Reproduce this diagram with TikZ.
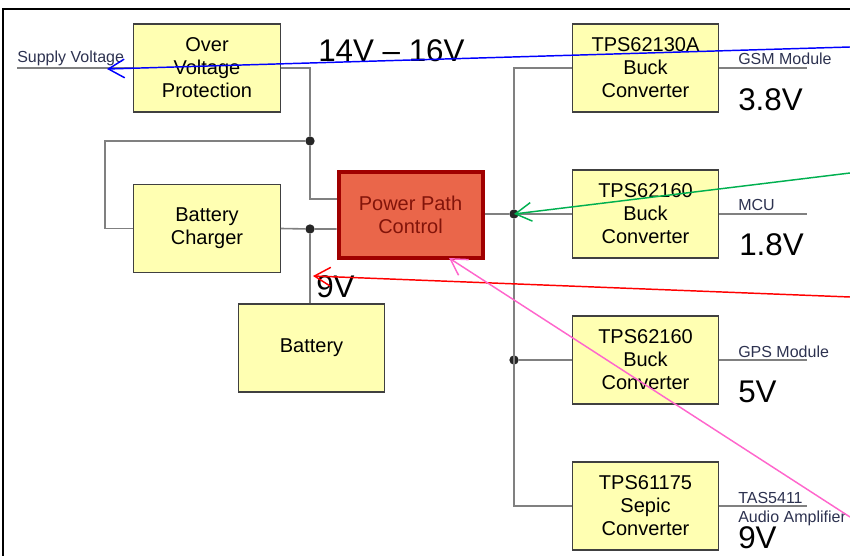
\documentclass[tikz,border=0pt]{standalone}
\usepackage{fontspec}
\setmainfont{Liberation Sans}
\usetikzlibrary{arrows.meta,calc}
\definecolor{boxyellow}{RGB}{255,255,178}
\definecolor{wiregray}{RGB}{128,128,128}
\definecolor{pathred}{RGB}{234,102,74}
\definecolor{pathborder}{RGB}{160,0,0}
\definecolor{pathtext}{RGB}{130,20,10}
\definecolor{labelblue}{RGB}{45,50,80}
\definecolor{pinkarrow}{RGB}{255,102,204}
\definecolor{greenarrow}{RGB}{0,176,80}
\tikzset{
  block/.style={draw=black!75, fill=boxyellow, line width=0.9pt, minimum width=110pt, minimum height=66pt, align=center, inner sep=1pt, font=\fontsize{15}{17.25}\selectfont},
  wire/.style={draw=wiregray, line width=1.2pt},
  junction/.style={circle, fill=black!85, inner sep=0pt, minimum size=7pt},
  outlabel/.style={anchor=base west, inner sep=0pt, text=labelblue, font=\fontsize{12}{14}\selectfont},
  volt/.style={anchor=base west, inner sep=0pt, font=\fontsize{23.5}{28}\selectfont},
  pointer/.style={draw=#1, line width=1.1pt, -{Straight Barb[length=12pt,width=14pt]}},
}

\begin{document}
\begin{tikzpicture}[x=0.75pt, y=-0.75pt]
\useasboundingbox (0,0) rectangle (850,556);

% Page frame
\draw[line width=1.6pt] (3,556) -- (3,9) -- (850,9);

% Input side
\node[block] (ovp) at (207,68) {Over\\Voltage\\Protection};
\node[block] (chg) at (207,228.5) {Battery\\Charger};
\node[block] (bat) at (311.5,348) {Battery};
\node[block, fill=pathred, draw=pathborder, line width=3pt, text=pathtext, minimum width=108pt, minimum height=64pt] (ppc) at (410.5,215) {Power Path\\Control};

% Junctions
\node[junction] (j1) at (310,141) {};
\node[junction] (j2) at (310,229) {};
\node[junction] (j3) at (514,214) {};
\node[junction] (j4) at (514,360) {};

\coordinate (supply) at (17,68);
\draw[wire] (supply) -- (ovp.west);
\draw[wire] (ovp.east) -| (j1) |- ($(ppc.west)+(0,-16)$);
\draw[wire] (j1) -- ++(-205,0) |- (chg.west);
\draw[wire] (chg.east) -- (j2) -- (ppc.west |- j2);
\draw[wire] (j2) -- (j2 |- bat.north);
\draw[wire] (ppc.east |- j3) -- (j3);

% Output side
\node[block] (buckA) at (645.5,68) {TPS62130A\\Buck\\Converter};
\node[block] (buckB) at (645.5,214) {TPS62160\\Buck\\Converter};
\node[block] (buckC) at (645.5,360) {TPS62160\\Buck\\Converter};
\node[block] (sepic) at (645.5,506) {TPS61175\\Sepic\\Converter};

\draw[wire] (buckA.west) -| (j3) |- (sepic.west);
\draw[wire] (j3) -- (buckB.west);
\draw[wire] (j4) -- (buckC.west);

\foreach \blk/\name in {buckA/gsm, buckB/mcu, buckC/gps, sepic/amp}
  \draw[wire] (\blk.east) -- ++(88,0) coordinate (\name);

% Labels
\node[outlabel] (supplylbl) at (17,63) {Supply Voltage};
\node[outlabel] (gsmlbl) at (738,65) {GSM Module};
\node[outlabel] (mculbl) at (738,211) {MCU};
\node[outlabel] (gpslbl) at (738,357) {GPS Module};
\node[outlabel] (amplbl) at (738,503) {TAS5411};
\node[outlabel] (amplbl2) at (738,522) {Audio Amplifier};

\node[volt] (vin) at (318,62) {14V – 16V};
\node[volt] (v38) at (738,111) {3.8V};
\node[volt] (v18) at (739,256) {1.8V};
\node[volt] (v9a) at (316,297) {9V};
\node[volt] (v5) at (738,402) {5V};
\node[volt] (v9b) at (738,548) {9V};

% Pointers
\coordinate (blueend) at (850,47);
\coordinate (bluetip) at (107,69);
\coordinate (greenend) at (850,173);
\coordinate (redend) at (850,297);
\coordinate (redtip) at (313,276);
\coordinate (pinkend) at (850,517);
\coordinate (pinktip) at (449,258);
\draw[pointer=blue] (blueend) -- (bluetip);
\draw[pointer=greenarrow] (greenend) -- (j3.center);
\draw[pointer=red] (redend) -- (redtip);
\draw[pointer=pinkarrow] (pinkend) -- (pinktip);

\end{tikzpicture}
\end{document}
